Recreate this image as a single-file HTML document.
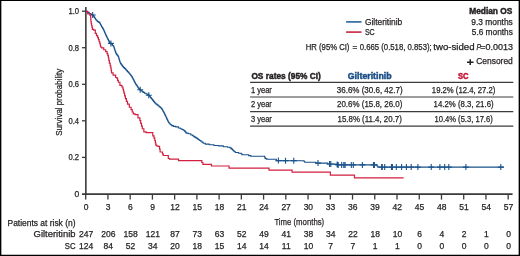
<!DOCTYPE html><html><head><meta charset="utf-8"><style>html,body{margin:0;padding:0;background:#fff;}svg{display:block;will-change:transform;}text{font-family:"Liberation Sans",sans-serif;fill:#231f20;stroke:#231f20;stroke-width:0.25px;}text[font-weight=bold]{stroke-width:0.45px;}</style></head><body>
<svg width="520" height="256" viewBox="0 0 520 256">
<rect x="0" y="0" width="520" height="256" fill="#fff"/>
<path d="M0,0H520V256H0Z M1.35,1.1V254.8H518.65V1.1Z" fill="#000" fill-rule="evenodd"/>
<line x1="346.1" y1="21.9" x2="361.5" y2="21.9" stroke="#3f72a6" stroke-width="1.8"/>
<line x1="346.1" y1="32.1" x2="361.5" y2="32.1" stroke="#d03a55" stroke-width="1.8"/>
<text x="364.90" y="24.60" font-size="8.70" textLength="37.30" lengthAdjust="spacingAndGlyphs">Gilteritinib</text>
<text x="364.90" y="35.00" font-size="8.70" textLength="9.80" lengthAdjust="spacingAndGlyphs">SC</text>
<text x="512.40" y="13.90" font-size="8.50" text-anchor="end" textLength="43.20" lengthAdjust="spacingAndGlyphs" font-weight="bold">Median OS</text>
<text x="512.80" y="24.80" font-size="8.70" text-anchor="end" textLength="41.50" lengthAdjust="spacingAndGlyphs">9.3 months</text>
<text x="512.80" y="35.00" font-size="8.70" text-anchor="end" textLength="41.00" lengthAdjust="spacingAndGlyphs">5.6 months</text>
<text x="305.80" y="49.60" font-size="8.70" textLength="43.60" lengthAdjust="spacingAndGlyphs">HR (95% CI)</text>
<text x="352.60" y="49.60" font-size="8.70" textLength="4.80" lengthAdjust="spacingAndGlyphs">=</text>
<text x="359.70" y="49.60" font-size="8.70" textLength="72.00" lengthAdjust="spacingAndGlyphs">0.665 (0.518, 0.853);</text>
<text x="433.30" y="49.60" font-size="8.70" textLength="41.30" lengthAdjust="spacingAndGlyphs">two-sided</text>
<text x="476.4" y="49.6" font-size="8.7" font-style="italic" textLength="4.6" lengthAdjust="spacingAndGlyphs">P</text>
<text x="480.20" y="49.60" font-size="8.70" textLength="32.80" lengthAdjust="spacingAndGlyphs">=0.0013</text>
<path d="M467,62.2 H473.5 M470.25,59.2 V65" stroke="#231f20" stroke-width="1.5"/>
<text x="476.20" y="64.00" font-size="8.70" textLength="36.60" lengthAdjust="spacingAndGlyphs">Censored</text>
<text x="251.40" y="79.00" font-size="8.50" textLength="69.50" lengthAdjust="spacingAndGlyphs" font-weight="bold">OS rates (95% CI)</text>
<text x="369.70" y="78.70" font-size="8.50" text-anchor="middle" textLength="43.80" lengthAdjust="spacingAndGlyphs" font-weight="bold" style="fill:#1a4d86;stroke:#1a4d86">Gilteritinib</text>
<text x="463.20" y="78.70" font-size="8.50" text-anchor="middle" textLength="10.60" lengthAdjust="spacingAndGlyphs" font-weight="bold" style="fill:#c4102e;stroke:#c4102e">SC</text>
<line x1="250.1" y1="82.40" x2="513.3" y2="82.40" stroke="#3c3c3c" stroke-width="1.2"/>
<line x1="250.1" y1="97.00" x2="513.3" y2="97.00" stroke="#3c3c3c" stroke-width="1.2"/>
<line x1="250.1" y1="111.60" x2="513.3" y2="111.60" stroke="#3c3c3c" stroke-width="1.2"/>
<line x1="250.1" y1="126.20" x2="513.3" y2="126.20" stroke="#3c3c3c" stroke-width="1.2"/>
<text x="250.90" y="92.50" font-size="8.70" textLength="21.00" lengthAdjust="spacingAndGlyphs">1 year</text>
<text x="369.70" y="92.50" font-size="8.70" text-anchor="middle" textLength="65.80" lengthAdjust="spacingAndGlyphs">36.6% (30.6, 42.7)</text>
<text x="463.60" y="92.50" font-size="8.70" text-anchor="middle" textLength="63.50" lengthAdjust="spacingAndGlyphs">19.2% (12.4, 27.2)</text>
<text x="250.90" y="107.10" font-size="8.70" textLength="21.00" lengthAdjust="spacingAndGlyphs">2 year</text>
<text x="369.70" y="107.10" font-size="8.70" text-anchor="middle" textLength="65.40" lengthAdjust="spacingAndGlyphs">20.6% (15.8, 26.0)</text>
<text x="463.60" y="107.10" font-size="8.70" text-anchor="middle" textLength="60.00" lengthAdjust="spacingAndGlyphs">14.2% (8.3, 21.6)</text>
<text x="250.90" y="121.50" font-size="8.70" textLength="21.00" lengthAdjust="spacingAndGlyphs">3 year</text>
<text x="369.70" y="121.50" font-size="8.70" text-anchor="middle" textLength="64.30" lengthAdjust="spacingAndGlyphs">15.8% (11.4, 20.7)</text>
<text x="463.60" y="121.50" font-size="8.70" text-anchor="middle" textLength="58.30" lengthAdjust="spacingAndGlyphs">10.4% (5.3, 17.6)</text>
<line x1="85.85" y1="7.1" x2="85.85" y2="194.9" stroke="#3a3a3a" stroke-width="1.6"/>
<line x1="82" y1="194.1" x2="512.6" y2="194.1" stroke="#3a3a3a" stroke-width="1.6"/>
<line x1="82" y1="11.20" x2="86" y2="11.20" stroke="#3a3a3a" stroke-width="1.3"/>
<text x="79.10" y="14.20" font-size="8.50" text-anchor="end" textLength="10.60" lengthAdjust="spacingAndGlyphs">1.0</text>
<line x1="82" y1="47.70" x2="86" y2="47.70" stroke="#3a3a3a" stroke-width="1.3"/>
<text x="79.10" y="50.70" font-size="8.50" text-anchor="end" textLength="10.60" lengthAdjust="spacingAndGlyphs">0.8</text>
<line x1="82" y1="84.30" x2="86" y2="84.30" stroke="#3a3a3a" stroke-width="1.3"/>
<text x="79.10" y="87.30" font-size="8.50" text-anchor="end" textLength="10.60" lengthAdjust="spacingAndGlyphs">0.6</text>
<line x1="82" y1="120.80" x2="86" y2="120.80" stroke="#3a3a3a" stroke-width="1.3"/>
<text x="79.10" y="123.80" font-size="8.50" text-anchor="end" textLength="10.60" lengthAdjust="spacingAndGlyphs">0.4</text>
<line x1="82" y1="157.40" x2="86" y2="157.40" stroke="#3a3a3a" stroke-width="1.3"/>
<text x="79.10" y="160.40" font-size="8.50" text-anchor="end" textLength="10.60" lengthAdjust="spacingAndGlyphs">0.2</text>
<text x="79.20" y="196.60" font-size="8.50" text-anchor="end">0</text>
<line x1="85.70" y1="194" x2="85.70" y2="199.6" stroke="#3a3a3a" stroke-width="1.3"/>
<text x="86.00" y="209.50" font-size="8.50" text-anchor="middle">0</text>
<line x1="107.94" y1="194" x2="107.94" y2="199.6" stroke="#3a3a3a" stroke-width="1.3"/>
<text x="108.24" y="209.50" font-size="8.50" text-anchor="middle">3</text>
<line x1="130.17" y1="194" x2="130.17" y2="199.6" stroke="#3a3a3a" stroke-width="1.3"/>
<text x="130.47" y="209.50" font-size="8.50" text-anchor="middle">6</text>
<line x1="152.41" y1="194" x2="152.41" y2="199.6" stroke="#3a3a3a" stroke-width="1.3"/>
<text x="152.71" y="209.50" font-size="8.50" text-anchor="middle">9</text>
<line x1="174.64" y1="194" x2="174.64" y2="199.6" stroke="#3a3a3a" stroke-width="1.3"/>
<text x="174.94" y="209.50" font-size="8.50" text-anchor="middle">12</text>
<line x1="196.88" y1="194" x2="196.88" y2="199.6" stroke="#3a3a3a" stroke-width="1.3"/>
<text x="197.18" y="209.50" font-size="8.50" text-anchor="middle">15</text>
<line x1="219.12" y1="194" x2="219.12" y2="199.6" stroke="#3a3a3a" stroke-width="1.3"/>
<text x="219.42" y="209.50" font-size="8.50" text-anchor="middle">18</text>
<line x1="241.35" y1="194" x2="241.35" y2="199.6" stroke="#3a3a3a" stroke-width="1.3"/>
<text x="241.65" y="209.50" font-size="8.50" text-anchor="middle">21</text>
<line x1="263.59" y1="194" x2="263.59" y2="199.6" stroke="#3a3a3a" stroke-width="1.3"/>
<text x="263.89" y="209.50" font-size="8.50" text-anchor="middle">24</text>
<line x1="285.82" y1="194" x2="285.82" y2="199.6" stroke="#3a3a3a" stroke-width="1.3"/>
<text x="286.12" y="209.50" font-size="8.50" text-anchor="middle">27</text>
<line x1="308.06" y1="194" x2="308.06" y2="199.6" stroke="#3a3a3a" stroke-width="1.3"/>
<text x="308.36" y="209.50" font-size="8.50" text-anchor="middle">30</text>
<line x1="330.30" y1="194" x2="330.30" y2="199.6" stroke="#3a3a3a" stroke-width="1.3"/>
<text x="330.60" y="209.50" font-size="8.50" text-anchor="middle">33</text>
<line x1="352.53" y1="194" x2="352.53" y2="199.6" stroke="#3a3a3a" stroke-width="1.3"/>
<text x="352.83" y="209.50" font-size="8.50" text-anchor="middle">36</text>
<line x1="374.77" y1="194" x2="374.77" y2="199.6" stroke="#3a3a3a" stroke-width="1.3"/>
<text x="375.07" y="209.50" font-size="8.50" text-anchor="middle">39</text>
<line x1="397.00" y1="194" x2="397.00" y2="199.6" stroke="#3a3a3a" stroke-width="1.3"/>
<text x="397.30" y="209.50" font-size="8.50" text-anchor="middle">42</text>
<line x1="419.24" y1="194" x2="419.24" y2="199.6" stroke="#3a3a3a" stroke-width="1.3"/>
<text x="419.54" y="209.50" font-size="8.50" text-anchor="middle">45</text>
<line x1="441.48" y1="194" x2="441.48" y2="199.6" stroke="#3a3a3a" stroke-width="1.3"/>
<text x="441.78" y="209.50" font-size="8.50" text-anchor="middle">48</text>
<line x1="463.71" y1="194" x2="463.71" y2="199.6" stroke="#3a3a3a" stroke-width="1.3"/>
<text x="464.01" y="209.50" font-size="8.50" text-anchor="middle">51</text>
<line x1="485.95" y1="194" x2="485.95" y2="199.6" stroke="#3a3a3a" stroke-width="1.3"/>
<text x="486.25" y="209.50" font-size="8.50" text-anchor="middle">54</text>
<line x1="508.18" y1="194" x2="508.18" y2="199.6" stroke="#3a3a3a" stroke-width="1.3"/>
<text x="508.48" y="209.50" font-size="8.50" text-anchor="middle">57</text>
<text transform="translate(61.9,102.3) rotate(-90)" font-size="9.5" text-anchor="middle" textLength="67" lengthAdjust="spacingAndGlyphs">Survival probability</text>
<text x="299.30" y="224.60" font-size="9.60" text-anchor="middle" textLength="49.80" lengthAdjust="spacingAndGlyphs">Time (months)</text>
<text x="7.50" y="225.60" font-size="8.70" textLength="68.00" lengthAdjust="spacingAndGlyphs">Patients at risk (n)</text>
<text x="75.50" y="237.40" font-size="8.70" text-anchor="end" textLength="41.90" lengthAdjust="spacingAndGlyphs">Gilteritinib</text>
<text x="75.50" y="248.60" font-size="8.70" text-anchor="end" textLength="10.70" lengthAdjust="spacingAndGlyphs">SC</text>
<text x="86.10" y="237.00" font-size="8.50" text-anchor="middle">247</text>
<text x="86.10" y="248.60" font-size="8.50" text-anchor="middle">124</text>
<text x="108.34" y="237.00" font-size="8.50" text-anchor="middle">206</text>
<text x="108.34" y="248.60" font-size="8.50" text-anchor="middle">84</text>
<text x="130.57" y="237.00" font-size="8.50" text-anchor="middle">158</text>
<text x="130.57" y="248.60" font-size="8.50" text-anchor="middle">52</text>
<text x="152.81" y="237.00" font-size="8.50" text-anchor="middle">121</text>
<text x="152.81" y="248.60" font-size="8.50" text-anchor="middle">34</text>
<text x="175.04" y="237.00" font-size="8.50" text-anchor="middle">87</text>
<text x="175.04" y="248.60" font-size="8.50" text-anchor="middle">20</text>
<text x="197.28" y="237.00" font-size="8.50" text-anchor="middle">73</text>
<text x="197.28" y="248.60" font-size="8.50" text-anchor="middle">18</text>
<text x="219.52" y="237.00" font-size="8.50" text-anchor="middle">63</text>
<text x="219.52" y="248.60" font-size="8.50" text-anchor="middle">15</text>
<text x="241.75" y="237.00" font-size="8.50" text-anchor="middle">52</text>
<text x="241.75" y="248.60" font-size="8.50" text-anchor="middle">14</text>
<text x="263.99" y="237.00" font-size="8.50" text-anchor="middle">49</text>
<text x="263.99" y="248.60" font-size="8.50" text-anchor="middle">14</text>
<text x="286.22" y="237.00" font-size="8.50" text-anchor="middle">41</text>
<text x="286.22" y="248.60" font-size="8.50" text-anchor="middle">11</text>
<text x="308.46" y="237.00" font-size="8.50" text-anchor="middle">38</text>
<text x="308.46" y="248.60" font-size="8.50" text-anchor="middle">10</text>
<text x="330.70" y="237.00" font-size="8.50" text-anchor="middle">34</text>
<text x="330.70" y="248.60" font-size="8.50" text-anchor="middle">7</text>
<text x="352.93" y="237.00" font-size="8.50" text-anchor="middle">22</text>
<text x="352.93" y="248.60" font-size="8.50" text-anchor="middle">7</text>
<text x="375.17" y="237.00" font-size="8.50" text-anchor="middle">18</text>
<text x="375.17" y="248.60" font-size="8.50" text-anchor="middle">1</text>
<text x="397.40" y="237.00" font-size="8.50" text-anchor="middle">10</text>
<text x="397.40" y="248.60" font-size="8.50" text-anchor="middle">1</text>
<text x="419.64" y="237.00" font-size="8.50" text-anchor="middle">6</text>
<text x="419.64" y="248.60" font-size="8.50" text-anchor="middle">0</text>
<text x="441.88" y="237.00" font-size="8.50" text-anchor="middle">4</text>
<text x="441.88" y="248.60" font-size="8.50" text-anchor="middle">0</text>
<text x="464.11" y="237.00" font-size="8.50" text-anchor="middle">2</text>
<text x="464.11" y="248.60" font-size="8.50" text-anchor="middle">0</text>
<text x="486.35" y="237.00" font-size="8.50" text-anchor="middle">1</text>
<text x="486.35" y="248.60" font-size="8.50" text-anchor="middle">0</text>
<text x="508.58" y="237.00" font-size="8.50" text-anchor="middle">0</text>
<text x="508.58" y="248.60" font-size="8.50" text-anchor="middle">0</text>
<polyline points="86.00,11.30 87.06,11.30 87.06,12.40 89.19,12.40 89.19,13.50 90.25,13.50 91.04,13.50 91.04,14.45 92.61,14.45 92.61,15.40 93.40,15.40 93.69,15.40 93.69,16.38 94.26,16.38 94.26,17.35 94.84,17.35 94.84,18.32 95.41,18.32 95.41,19.30 95.70,19.30 96.08,19.30 96.08,20.07 96.85,20.07 96.85,20.83 97.62,20.83 97.62,21.60 98.00,21.60 98.80,21.60 98.80,22.40 99.60,22.40 99.87,22.40 99.87,23.43 100.40,23.43 100.40,24.47 100.93,24.47 100.93,25.50 101.20,25.50 101.49,25.50 101.49,26.48 102.06,26.48 102.06,27.45 102.64,27.45 102.64,28.42 103.21,28.42 103.21,29.40 103.50,29.40 103.70,29.40 103.70,30.32 104.10,30.32 104.10,31.23 104.50,31.23 104.50,32.15 104.90,32.15 104.90,33.07 105.30,33.07 105.30,33.98 105.70,33.98 105.70,34.90 105.90,34.90 106.13,34.90 106.13,35.84 106.59,35.84 106.59,36.78 107.05,36.78 107.05,37.72 107.51,37.72 107.51,38.66 107.97,38.66 107.97,39.60 108.20,39.60 108.47,39.60 108.47,40.63 109.00,40.63 109.00,41.67 109.53,41.67 109.53,42.70 109.80,42.70 110.65,42.70 110.65,43.80 111.50,43.80 111.87,43.80 111.87,44.62 112.60,44.62 112.60,45.43 113.33,45.43 113.33,46.25 113.70,46.25 113.84,46.25 113.84,47.13 114.13,47.13 114.13,48.01 114.42,48.01 114.42,48.89 114.71,48.89 114.71,49.77 114.99,49.77 114.99,50.66 115.28,50.66 115.28,51.54 115.57,51.54 115.57,52.42 115.86,52.42 115.86,53.30 116.00,53.30 116.40,53.30 116.40,54.33 117.20,54.33 117.20,55.37 118.00,55.37 118.00,56.40 118.40,56.40 118.53,56.40 118.53,57.30 118.80,57.30 118.80,58.20 119.06,58.20 119.06,59.10 119.33,59.10 119.33,60.00 119.59,60.00 119.59,60.90 119.85,60.90 119.85,61.80 120.12,61.80 120.12,62.70 120.25,62.70 120.59,62.70 120.59,63.67 121.28,63.67 121.28,64.65 121.97,64.65 121.97,65.62 122.66,65.62 122.66,66.60 123.00,66.60 123.53,66.60 123.53,67.63 124.60,67.63 124.60,68.67 125.67,68.67 125.67,69.70 126.20,69.70 126.59,69.70 126.59,70.58 127.36,70.58 127.36,71.45 128.14,71.45 128.14,72.33 128.91,72.33 128.91,73.20 129.30,73.20 129.72,73.20 129.72,74.23 130.55,74.23 130.55,75.27 131.38,75.27 131.38,76.30 131.80,76.30 132.01,76.30 132.01,77.10 132.44,77.10 132.44,77.90 132.86,77.90 132.86,78.70 133.29,78.70 133.29,79.50 133.50,79.50 133.71,79.50 133.71,80.38 134.14,80.38 134.14,81.25 134.56,81.25 134.56,82.12 134.99,82.12 134.99,83.00 135.20,83.00 135.51,83.00 135.51,83.94 136.13,83.94 136.13,84.88 136.75,84.88 136.75,85.82 137.37,85.82 137.37,86.76 137.99,86.76 137.99,87.70 138.30,87.70 138.67,87.70 138.67,88.47 139.40,88.47 139.40,89.23 140.13,89.23 140.13,90.00 140.50,90.00 141.04,90.00 141.04,90.80 142.12,90.80 142.12,91.60 143.21,91.60 143.21,92.40 143.75,92.40 144.56,92.40 144.56,93.20 146.19,93.20 146.19,94.00 147.00,94.00 147.62,94.00 147.62,94.90 148.88,94.90 148.88,95.80 149.50,95.80 149.85,95.80 149.85,96.70 150.55,96.70 150.55,97.60 151.25,97.60 151.25,98.50 151.95,98.50 151.95,99.40 152.30,99.40 152.70,99.40 152.70,100.38 153.50,100.38 153.50,101.35 154.30,101.35 154.30,102.33 155.10,102.33 155.10,103.30 155.50,103.30 156.02,103.30 156.02,104.10 157.05,104.10 157.05,104.90 158.08,104.90 158.08,105.70 158.60,105.70 159.12,105.70 159.12,106.63 160.15,106.63 160.15,107.57 161.18,107.57 161.18,108.50 161.70,108.50 161.96,108.50 161.96,109.40 162.48,109.40 162.48,110.30 163.00,110.30 163.00,111.20 163.52,111.20 163.52,112.10 164.04,112.10 164.04,113.00 164.30,113.00 164.52,113.00 164.52,113.93 164.95,113.93 164.95,114.87 165.38,114.87 165.38,115.80 165.82,115.80 165.82,116.73 166.25,116.73 166.25,117.67 166.68,117.67 166.68,118.60 166.90,118.60 167.11,118.60 167.11,119.50 167.54,119.50 167.54,120.40 167.96,120.40 167.96,121.30 168.39,121.30 168.39,122.20 168.60,122.20 168.98,122.20 168.98,123.07 169.75,123.07 169.75,123.93 170.52,123.93 170.52,124.80 170.90,124.80 171.70,124.80 171.70,125.60 173.30,125.60 173.30,126.40 174.10,126.40 175.65,126.40 175.65,126.90 177.20,126.90 178.35,126.90 178.35,128.00 179.50,128.00 180.30,128.00 180.30,128.75 181.90,128.75 181.90,129.50 182.70,129.50 183.27,129.50 183.27,130.30 184.43,130.30 184.43,131.10 185.00,131.10 185.40,131.10 185.40,132.10 186.20,132.10 186.20,133.10 186.60,133.10 188.15,133.10 188.15,133.75 189.70,133.75 190.85,133.75 190.85,135.00 192.00,135.00 192.60,135.00 192.60,135.80 193.80,135.80 193.80,136.60 194.40,136.60 194.97,136.60 194.97,137.35 196.12,137.35 196.12,138.10 196.70,138.10 197.27,138.10 197.27,138.90 198.43,138.90 198.43,139.70 199.00,139.70 199.60,139.70 199.60,140.47 200.80,140.47 200.80,141.25 201.40,141.25 201.99,141.25 201.99,142.28 203.16,142.28 203.16,143.30 203.75,143.30 205.32,143.30 205.32,144.10 206.90,144.10 209.25,144.10 209.25,144.70 211.60,144.70 213.93,144.70 213.93,145.50 216.25,145.50 218.57,145.50 218.57,145.90 220.90,145.90 223.25,145.90 223.25,146.70 225.60,146.70 227.55,146.70 227.55,147.20 229.50,147.20 230.03,147.20 230.03,147.90 231.07,147.90 231.07,148.60 231.60,148.60 231.97,148.60 231.97,149.40 232.72,149.40 232.72,150.20 233.10,150.20 233.50,150.20 233.50,150.95 234.30,150.95 234.30,151.70 234.70,151.70 235.47,151.70 235.47,152.50 236.25,152.50 238.57,152.50 238.57,153.30 240.90,153.30 241.30,153.30 241.30,154.05 242.10,154.05 242.10,154.80 242.50,154.80 247.80,154.80 248.65,154.80 248.65,155.60 249.50,155.60 250.80,155.60 250.80,156.30 252.10,156.30 264.30,156.30 264.52,156.30 264.52,157.07 264.95,157.07 264.95,157.83 265.38,157.83 265.38,158.60 265.60,158.60 266.85,158.60 266.85,159.30 268.10,159.30 275.30,159.30 276.40,159.30 276.40,160.60 277.50,160.60 303.80,160.70 304.10,160.70 304.10,161.50 304.70,161.50 304.70,162.30 305.00,162.30 315.50,162.30 315.90,162.30 315.90,163.10 316.30,163.10 327.30,163.10 327.60,163.10 327.60,164.00 327.90,164.00 336.50,164.10 337.25,164.10 337.25,164.90 338.00,164.90 376.50,164.90 376.95,164.90 376.95,166.00 377.85,166.00 377.85,167.10 378.30,167.10 503.90,167.10" fill="none" stroke="#1a528c" stroke-width="1.1" stroke-linejoin="miter"/>
<path d="M92.70,11.98 V17.98 M89.70,14.98 H95.70 M110.90,40.41 V46.41 M107.90,43.41 H113.90 M140.20,86.69 V92.69 M137.20,89.69 H143.20 M148.80,92.30 V98.30 M145.80,95.30 H151.80 M278.40,157.60 V163.60 M275.40,160.60 H281.40 M285.50,157.63 V163.63 M282.50,160.63 H288.50 M293.75,157.66 V163.66 M290.75,160.66 H296.75 M318.00,160.10 V166.10 M315.00,163.10 H321.00 M329.50,161.02 V167.02 M326.50,164.02 H332.50 M330.80,161.03 V167.03 M327.80,164.03 H333.80 M337.20,161.47 V167.47 M334.20,164.47 H340.20 M338.20,161.90 V167.90 M335.20,164.90 H341.20 M341.70,161.90 V167.90 M338.70,164.90 H344.70 M343.80,161.90 V167.90 M340.80,164.90 H346.80 M345.10,161.90 V167.90 M342.10,164.90 H348.10 M351.30,161.90 V167.90 M348.30,164.90 H354.30 M353.30,161.90 V167.90 M350.30,164.90 H356.30 M362.40,161.90 V167.90 M359.40,164.90 H365.40 M373.50,161.90 V167.90 M370.50,164.90 H376.50 M374.40,161.90 V167.90 M371.40,164.90 H377.40 M381.65,164.10 V170.10 M378.65,167.10 H384.65 M382.30,164.10 V170.10 M379.30,167.10 H385.30 M384.70,164.10 V170.10 M381.70,167.10 H387.70 M391.50,164.10 V170.10 M388.50,167.10 H394.50 M392.40,164.10 V170.10 M389.40,167.10 H395.40 M396.30,164.10 V170.10 M393.30,167.10 H399.30 M401.60,164.10 V170.10 M398.60,167.10 H404.60 M406.40,164.10 V170.10 M403.40,167.10 H409.40 M411.20,164.10 V170.10 M408.20,167.10 H414.20 M417.90,164.10 V170.10 M414.90,167.10 H420.90 M431.25,164.10 V170.10 M428.25,167.10 H434.25 M439.90,164.10 V170.10 M436.90,167.10 H442.90 M444.70,164.10 V170.10 M441.70,167.10 H447.70 M448.80,164.10 V170.10 M445.80,167.10 H451.80 M465.90,164.10 V170.10 M462.90,167.10 H468.90 M500.80,164.10 V170.10 M497.80,167.10 H503.80" stroke="#1a528c" stroke-width="1.1" fill="none"/>
<polyline points="86.00,11.30 87.75,11.30 87.75,13.80 89.50,13.80 90.05,13.80 90.05,15.40 90.60,15.40 90.67,15.40 90.67,17.47 90.80,17.47 90.80,19.53 90.93,19.53 90.93,21.60 91.00,21.60 91.20,21.60 91.20,23.55 91.60,23.55 91.60,25.50 91.80,25.50 92.00,25.50 92.00,27.45 92.40,27.45 92.40,29.40 92.60,29.40 93.75,29.40 93.75,30.20 94.90,30.20 95.30,30.20 95.30,33.30 95.70,33.30 96.50,33.30 96.50,35.70 97.30,35.70 97.67,35.70 97.67,37.65 98.42,37.65 98.42,39.60 98.80,39.60 99.12,39.60 99.12,41.55 99.77,41.55 99.77,43.50 100.10,43.50 100.25,43.50 100.25,45.25 100.55,45.25 100.55,47.00 100.70,47.00 101.72,47.00 101.72,47.80 102.75,47.80 103.74,47.80 103.74,49.75 105.71,49.75 105.71,51.70 106.70,51.70 107.08,51.70 107.08,53.65 107.83,53.65 107.83,55.60 108.20,55.60 108.40,55.60 108.40,57.95 108.80,57.95 108.80,60.30 109.00,60.30 109.40,60.30 109.40,63.05 110.20,63.05 110.20,65.80 110.60,65.80 110.78,65.80 110.78,68.13 111.15,68.13 111.15,70.47 111.52,70.47 111.52,72.80 111.70,72.80 113.10,72.80 113.10,75.20 114.50,75.20 115.65,75.20 115.65,77.50 116.80,77.50 117.00,77.50 117.00,78.30 117.20,78.30 117.59,78.30 117.59,80.28 118.36,80.28 118.36,82.25 118.75,82.25 119.92,82.25 119.92,85.40 121.10,85.40 121.90,85.40 121.90,87.00 122.70,87.00 122.95,87.00 122.95,89.07 123.45,89.07 123.45,91.13 123.95,91.13 123.95,93.20 124.20,93.20 124.60,93.20 124.60,95.95 125.40,95.95 125.40,98.70 125.80,98.70 126.38,98.70 126.38,101.40 127.52,101.40 127.52,104.10 128.10,104.10 129.30,104.10 129.30,107.25 130.50,107.25 131.07,107.25 131.07,109.62 132.23,109.62 132.23,112.00 132.80,112.00 133.28,112.00 133.28,113.90 133.75,113.90 135.07,113.90 135.07,114.70 136.40,114.70 137.95,114.70 137.95,117.80 139.50,117.80 139.90,117.80 139.90,120.55 140.70,120.55 140.70,123.30 141.10,123.30 141.50,123.30 141.50,126.03 142.30,126.03 142.30,128.75 142.70,128.75 143.85,128.75 143.85,131.90 145.00,131.90 146.15,131.90 146.15,132.70 147.30,132.70 152.00,132.70 152.80,132.70 152.80,135.80 153.60,135.80 154.00,135.80 154.00,138.15 154.80,138.15 154.80,140.50 155.20,140.50 155.40,140.50 155.40,142.85 155.80,142.85 155.80,145.20 156.00,145.20 156.70,145.20 156.70,146.00 157.40,146.00 158.30,146.00 158.30,146.40 159.20,146.40 159.55,146.40 159.55,149.20 159.90,149.20 160.10,149.20 160.10,151.80 160.30,151.80 162.00,152.00 162.50,152.00 162.50,153.80 163.00,153.80 163.20,153.80 163.20,155.40 163.40,155.40 167.20,155.50 168.30,155.50 168.30,158.50 169.40,158.50 169.60,158.50 169.60,159.10 169.80,159.10 178.20,159.10 178.55,159.10 178.55,160.60 178.90,160.60 201.30,160.70 201.83,160.70 201.83,162.50 202.88,162.50 202.88,164.30 203.40,164.30 210.90,164.30 211.45,164.30 211.45,166.00 212.00,166.00 228.60,166.00 229.05,166.00 229.05,168.10 229.50,168.10 268.50,168.10 269.00,168.10 269.00,170.10 269.50,170.10 291.80,170.10 292.10,170.10 292.10,172.20 292.40,172.20 330.10,172.20 330.35,172.20 330.35,175.10 330.60,175.10 354.20,175.10 354.45,175.10 354.45,177.80 354.70,177.80 403.60,177.80" fill="none" stroke="#d21f3f" stroke-width="1.2" stroke-linejoin="miter"/>
</svg></body></html>
